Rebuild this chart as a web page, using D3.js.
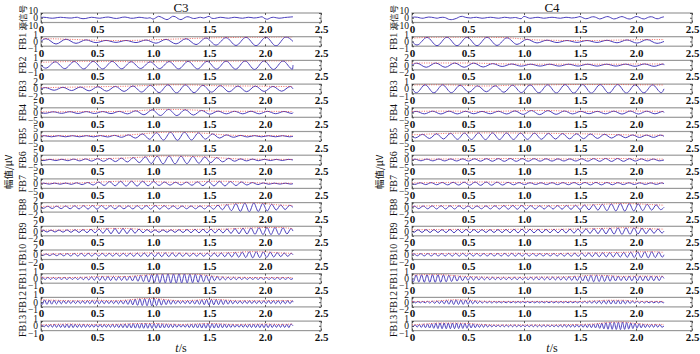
<!DOCTYPE html>
<html><head><meta charset="utf-8">
<script src="https://cdn.jsdelivr.net/npm/d3@7"></script>
<style>body{margin:0;background:#fff}svg{display:block}</style>
</head><body>
<script>
// ---------- data ----------
const channels = ["C3", "C4"];
const bandNames = ["源信号","FB1","FB2","FB3","FB4","FB5","FB6","FB7","FB8","FB9","FB10","FB11","FB12","FB13"];
const yMaxC3 = [10,1,1,2,5,5,5,5,2,2,2,1,1,1];
const yMaxC4 = [10,1,2,1,5,5,5,5,2,2,2,1,2,1];
const xTicks = [0,0.5,1.0,1.5,2.0,2.5];
const xTickLabels = ["0","0.5","1.0","1.5","2.0","2.5"];
// visible oscillation frequency of each band (Hz), read from wave spacing
const bandFreq = [0,5.6,5.9,6.4,6.8,8,9.4,10.2,12.5,14,16,20.5,23.5,27];
// envelope sample times (s)
const envTimes = [0,0.125,0.25,0.375,0.5,0.625,0.75,0.875,1.0,1.125,1.25,1.375,1.5,1.625,1.75,1.875,2.0,2.125,2.25];
// source signal samples every 0.025 s from 0 to 2.25 s
const sourceC3 = [0.5,1,0.5,-0.5,-1,-0.5,0.5,1,0.5,0,-0.5,-0.5,0.5,1,-1,-2,-1.5,0,1,0.5,-0.5,
  -1,0,1,1.5,0.5,-1,-1.5,-0.5,1,1.5,0.5,-1,-1,0,1,0.5,-0.5,-1,0,
  -3,0,3,1,-2,-4,-1,3,2,-2,-4,-1,2,1.5,-1,
  -1.5,0,1,-0.5,1,3,
  -1,-1.5,0,1,0.5,-0.5,-1,0,1,0.5,-0.5,-1,0,1,0.5,-0.5,0,1,
  2,-2,-3,0,1,0,-1,-0.5,0.5,1,1.5,2];
const sourceC4 = [0.5,1.5,1,-0.5,-1,0.5,1.5,1,0,-1,0.5,1,0,
  -3,-4,-3,-1,
  2,3,1,0,
  -0.5,0.5,1,0,-1,-0.5,0.5,1,0.5,-0.5,-1,0,1,0.5,-0.5,0,0.5,
  -1,-2,3,1,
  -1,-0.5,0.5,1,0,-1,-0.5,0.5,1,0.5,-0.5,-1,0,1,0.5,-0.5,0,
  1,2.5,0,
  -2,-1,1.5,2,0,-2.5,-1,1.5,2.5,0,-2.5,-1.5,1,2.5,0.5,-2,-2.5,0,2.5,1.5,-1.5,-2.5,0,2,1.5,-1.5,-2,0.5,2];
// band amplitude envelopes (FB1..FB13) at envTimes
const envC3 = [
  [0.6,0.55,0.45,0.35,0.25,0.2,0.2,0.25,0.35,0.45,0.55,0.65,0.75,0.8,0.85,0.9,0.9,0.95,0.95],
  [0.6,0.7,0.75,0.8,0.8,0.8,0.75,0.7,0.7,0.75,0.8,0.8,0.8,0.85,0.85,0.9,0.9,0.9,0.85],
  [0.5,0.6,0.7,0.8,0.9,1.0,1.1,1.3,1.5,1.7,1.7,1.6,1.4,1.3,1.2,1.2,1.1,1.0,1.0],
  [0.8,0.8,0.9,1.0,1.0,1.1,1.3,2.0,3.0,3.3,3.2,2.6,1.8,1.4,1.3,1.4,1.3,1.2,1.0],
  [0.6,0.6,0.6,0.6,0.7,0.8,1.2,2.2,3.5,4.2,4.3,3.8,2.8,1.6,0.9,0.7,0.6,0.6,0.6],
  [0.6,0.7,0.8,1.0,1.3,1.6,2.0,2.8,3.8,4.2,4.0,3.6,3.0,2.0,1.2,0.9,0.7,0.6,0.6],
  [0.5,0.6,0.7,1.0,1.6,2.2,2.6,2.6,2.2,1.6,1.4,1.8,2.4,2.5,2.0,1.2,0.7,0.5,0.5],
  [0.4,0.5,0.6,0.7,0.8,0.7,0.6,0.7,0.8,0.7,0.6,0.6,0.7,1.0,1.6,1.9,1.6,1.0,0.8],
  [0.4,0.4,0.5,0.6,0.8,1.1,1.1,0.8,0.5,0.5,0.6,0.7,0.8,0.8,1.1,1.3,1.5,1.5,1.0],
  [0.3,0.4,0.5,0.6,0.6,0.6,0.6,0.7,0.8,0.8,0.7,0.6,0.7,0.8,1.0,1.3,1.2,0.8,0.6],
  [0.25,0.2,0.2,0.25,0.4,0.45,0.4,0.6,0.85,0.95,0.95,0.9,0.6,0.3,0.25,0.2,0.2,0.2,0.2],
  [0.5,0.4,0.3,0.3,0.4,0.3,0.4,0.7,0.8,0.5,0.3,0.4,0.6,0.5,0.3,0.3,0.3,0.35,0.3],
  [0.2,0.3,0.4,0.3,0.3,0.3,0.4,0.5,0.5,0.4,0.3,0.4,0.5,0.4,0.3,0.35,0.4,0.3,0.4]
];
const envC4 = [
  [0.7,0.85,0.9,0.9,0.9,0.9,0.85,0.75,0.5,0.3,0.25,0.2,0.2,0.2,0.25,0.3,0.35,0.4,0.4],
  [0.8,0.9,0.9,0.9,0.9,0.8,0.6,0.5,0.4,0.4,0.4,0.4,0.4,0.4,0.4,0.4,0.5,0.5,0.5],
  [0.8,0.85,0.85,0.8,0.7,0.6,0.65,0.75,0.8,0.85,0.85,0.9,0.9,0.9,0.9,0.9,0.85,0.85,0.8],
  [1.2,1.4,1.5,1.5,1.3,1.2,1.3,1.6,2.0,2.2,2.0,1.6,1.3,1.2,1.4,1.6,1.6,1.4,1.2],
  [1.5,2.2,2.8,3.2,3.4,3.5,3.5,3.4,3.3,3.2,3.0,2.8,2.6,2.4,2.0,1.6,1.3,1.2,1.2],
  [0.8,0.9,1.0,1.1,1.2,1.3,1.4,1.5,1.4,1.3,1.2,1.1,1.2,1.4,1.6,1.5,1.2,1.0,0.9],
  [0.8,1.0,1.2,1.4,1.6,1.8,1.6,1.3,1.0,0.9,1.0,1.1,1.2,1.3,1.2,1.0,0.9,0.8,0.8],
  [0.5,0.6,0.7,0.7,0.6,0.6,0.7,0.8,0.8,0.7,0.7,0.8,0.9,1.1,1.4,1.6,1.5,1.2,0.9],
  [0.5,0.6,0.6,0.7,0.7,0.6,0.6,0.7,0.8,0.7,0.7,0.8,0.9,1.0,1.2,1.4,1.3,1.0,0.8],
  [0.4,0.5,0.5,0.6,0.6,0.5,0.5,0.6,0.6,0.5,0.5,0.6,0.7,0.8,0.9,1.0,1.2,1.3,1.0],
  [0.7,0.8,0.8,0.6,0.4,0.3,0.25,0.25,0.25,0.3,0.3,0.35,0.5,0.7,0.6,0.45,0.5,0.5,0.45],
  [0.3,0.3,0.6,1.0,0.9,0.4,0.3,0.3,0.3,0.3,0.3,0.3,0.3,0.5,0.8,0.8,0.4,0.3,0.3],
  [0.2,0.4,0.6,0.6,0.5,0.3,0.2,0.2,0.2,0.2,0.2,0.25,0.3,0.4,0.7,0.8,0.5,0.3,0.3]
];

// ---------- layout ----------
const W = 700, H = 354;
const panelTop0 = 13, panelStep = 23.7, panelH = 9.5;
const cols = [
  {name: channels[0], x0: 41, x1: 321, src: sourceC3, env: envC3, ymax: yMaxC3, labelX: 22, unitX: 8},
  {name: channels[1], x0: 412, x1: 692, src: sourceC4, env: envC4, ymax: yMaxC4, labelX: 393, unitX: 379}
];
const blue = "#4c40bc", red = "#ea3a30", frame = "#9a9a9a";
const serif = "'Liberation Serif','DejaVu Serif',serif";
const cjk = "'Noto Sans CJK SC','Noto Sans CJK JP',sans-serif";
const yFmt = d3.format("d");

const svg = d3.select("body").append("svg").attr("width", W).attr("height", H);

const tEnd = 2.25;
const envInterp = env => d3.scaleLinear().domain(envTimes).range(env).clamp(true);
function bandExtrema(env, f, sign) {
  const half = 1 / (2 * f);
  const e = envInterp(env);
  const pts = [[0, 0]];
  let k = 0;
  for (let t = half / 2; t <= tEnd; t += half, k++) pts.push([t, (k % 2 ? -1 : 1) * sign * e(t)]);
  pts.push([tEnd, 0]);
  return pts;
}

cols.forEach((c, ci) => {
  const x = d3.scaleLinear().domain([0, 2.5]).range([c.x0, c.x1]);
  const srcTimes = c.src.map((_, i) => i * 0.025);
  bandNames.forEach((name, i) => {
    const top = panelTop0 + i * panelStep, bot = top + panelH;
    const m = c.ymax[i];
    const y = d3.scaleLinear().domain([-m, m]).range([bot, top]);
    const g = svg.append("g");
    const clipId = `clip${ci}_${i}`;
    svg.append("clipPath").attr("id", clipId).append("rect")
      .attr("x", c.x0).attr("y", top).attr("width", c.x1 - c.x0).attr("height", panelH);
    g.append("rect").attr("x", c.x0).attr("y", top).attr("width", c.x1 - c.x0).attr("height", panelH)
      .attr("fill", "#fff").attr("stroke", frame).attr("stroke-width", 1.2);
    const lines = g.append("g").attr("clip-path", `url(#${clipId})`);
    const line = d3.line().x(d => x(d[0])).y(d => y(d[1])).curve(d3.curveMonotoneX);
    if (i === 0) {
      lines.append("path").datum(c.src.map((v, k) => [srcTimes[k], v]))
        .attr("d", d3.line().x(d => x(d[0])).y(d => y(d[1])).curve(d3.curveCatmullRom))
        .attr("fill", "none").attr("stroke", blue).attr("stroke-width", 1);
    } else {
      const env = c.env[i - 1];
      lines.append("path").datum(bandExtrema(env, bandFreq[i], (i + ci) % 2 ? 1 : -1))
        .attr("d", line).attr("fill", "none").attr("stroke", blue).attr("stroke-width", 1);
      lines.append("path").datum(env.map((v, k) => [envTimes[k], v]))
        .attr("d", line).attr("fill", "none").attr("stroke", red).attr("stroke-width", 1)
        .attr("stroke-dasharray", "1,1.4").attr("opacity", 0.75);
    }
    // axes
    const ax = g.append("g").attr("transform", `translate(0,${bot})`)
      .call(d3.axisBottom(x).tickValues(xTicks).tickFormat((d, k) => xTickLabels[k])
        .tickSizeInner(-2).tickSizeOuter(0).tickPadding(2.7));
    const axT = g.append("g").attr("transform", `translate(0,${top})`)
      .call(d3.axisTop(x).tickValues(xTicks).tickFormat("").tickSizeInner(-2).tickSizeOuter(0));
    const ayL = g.append("g").attr("transform", `translate(${c.x0},0)`)
      .call(d3.axisLeft(y).tickValues([-m, 0, m]).tickFormat(yFmt).tickSizeInner(-2).tickSizeOuter(0).tickPadding(3));
    const ayR = g.append("g").attr("transform", `translate(${c.x1},0)`)
      .call(d3.axisRight(y).tickValues([-m, 0, m]).tickFormat("").tickSizeInner(-2).tickSizeOuter(0));
    [ax, axT, ayL, ayR].forEach(a => {
      a.select(".domain").remove();
      a.selectAll("line").attr("stroke", "#333").attr("stroke-width", 0.8);
      a.selectAll("text").attr("font-family", serif).attr("fill", "#111");
    });
    ax.selectAll("text").attr("font-size", 11).attr("font-weight", "bold");
    ayL.selectAll("text").attr("font-size", 9.5).attr("dy", d => d > 0 ? "0.05em" : d < 0 ? "0.6em" : "0.32em");
    // band label
    g.append("text").attr("transform", `translate(${c.labelX},${(top + bot) / 2}) rotate(-90)`)
      .attr("text-anchor", "middle").attr("dominant-baseline", "central")
      .attr("font-family", i === 0 ? cjk : serif).attr("font-size", i === 0 ? 8.5 : 10)
      .attr("fill", "#111").text(name);
  });
  // title
  svg.append("text").attr("x", (c.x0 + c.x1) / 2).attr("y", 12).attr("text-anchor", "middle")
    .attr("font-family", serif).attr("font-size", 13).attr("fill", "#111").text(c.name);
  // unit label
  const midY = panelTop0 + (13 * panelStep + panelH) / 2;
  svg.append("text").attr("transform", `translate(${c.unitX},${midY}) rotate(-90)`)
    .attr("text-anchor", "middle").attr("dominant-baseline", "central")
    .attr("font-family", cjk).attr("font-size", 9.5).attr("fill", "#111").text("幅值/μV");
  // x label
  const xl = svg.append("text").attr("x", (c.x0 + c.x1) / 2).attr("y", 352).attr("text-anchor", "middle")
    .attr("font-family", serif).attr("font-size", 12).attr("fill", "#111");
  xl.append("tspan").attr("font-style", "italic").text("t");
  xl.append("tspan").text("/s");
});
</script>
</body></html>
